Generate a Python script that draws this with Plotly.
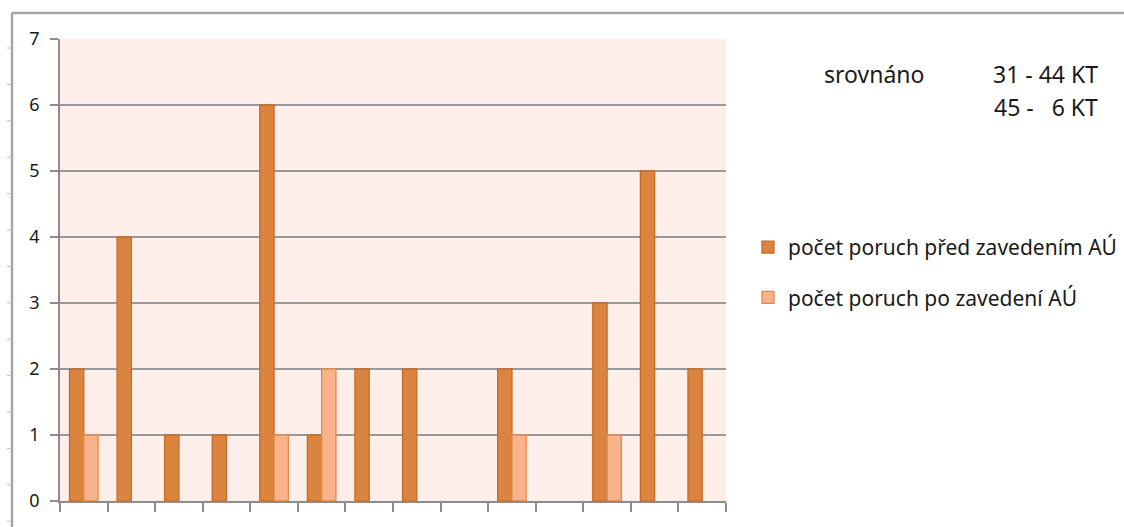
import plotly.graph_objects as go

# Categories (14 unlabeled groups) and failure counts
categories = list(range(14))
pred_zavedenim = [2, 4, 1, 1, 6, 1, 2, 2, 0, 2, 0, 3, 5, 2]
po_zavedeni = [1, 0, 0, 0, 1, 2, 0, 0, 0, 1, 0, 1, 0, 0]
y_ticks = [0, 1, 2, 3, 4, 5, 6, 7]

name_pred = "počet poruch před zavedením AÚ"
name_po = "počet poruch po zavedení AÚ"

FONT = "Noto Sans"
TEXT = "#1a1a1a"


def outline_widths(values, w=1.3):
    # no outline on empty bars so they don't leave a stroke on the baseline
    return [w if v > 0 else 0 for v in values]


fig = go.Figure()
fig.add_trace(go.Bar(
    x=categories, y=pred_zavedenim, name=name_pred, legendgroup="pred",
    marker=dict(color="#db843f",
                line=dict(color="#c26c2a", width=outline_widths(pred_zavedenim))),
))
fig.add_trace(go.Bar(
    x=categories, y=po_zavedeni, name=name_po, legendgroup="po",
    marker=dict(color="#f9b38b",
                line=dict(color="#e08a4e", width=outline_widths(po_zavedeni))),
))

boundaries = [c - 0.5 for c in categories] + [categories[-1] + 0.5]

fig.update_layout(
    width=1124, height=527,
    margin=dict(l=60, r=398, t=39, b=26, autoexpand=False),
    paper_bgcolor="white",
    plot_bgcolor="#fdeee9",
    barmode="group",
    bargap=0.4,
    bargroupgap=0,
    font=dict(family=FONT, size=15, color=TEXT),
    showlegend=True,
    legend=dict(
        x=1.033, y=0.4946, xanchor="left", yanchor="middle",
        font=dict(family=FONT, size=21, color=TEXT),
        itemwidth=30, tracegroupgap=20,
        bgcolor="rgba(0,0,0,0)",
    ),
    xaxis=dict(
        range=[-0.5, categories[-1] + 0.5],
        tickmode="array", tickvals=boundaries, ticktext=[""] * len(boundaries),
        ticks="outside", ticklen=9, tickcolor="#8c8c8c", tickwidth=1.5,
        showgrid=False, zeroline=False,
        showline=True, linecolor="#8c8c8c", linewidth=1.5,
    ),
    yaxis=dict(
        range=[0, 7],
        tickmode="array", tickvals=y_ticks,
        ticks="outside", ticklen=8, tickcolor="#8c8c8c", tickwidth=1.5,
        ticklabelstandoff=7,
        tickfont=dict(family=FONT, size=18, color=TEXT),
        showgrid=True, gridcolor="#999999", gridwidth=1.5,
        zeroline=False,
        showline=True, linecolor="#8c8c8c", linewidth=1.5,
    ),
)

# Outer chart frame (top and left edges)
fig.add_shape(type="line", xref="paper", yref="paper",
              x0=(12 - 60) / 666, x1=(1124 - 60) / 666,
              y0=(527 - 26 - 13) / 462, y1=(527 - 26 - 13) / 462,
              line=dict(color="#a6a6a6", width=2.5))
fig.add_shape(type="line", xref="paper", yref="paper",
              x0=(12 - 60) / 666, x1=(12 - 60) / 666,
              y0=(527 - 26 - 13) / 462, y1=-26 / 462,
              line=dict(color="#a6a6a6", width=2.5))
# small ticks on the left frame
for k in range(14):
    py = 48 + k * 36.4
    if py > 525:
        break
    yp = (501 - py) / 462
    fig.add_shape(type="line", xref="paper", yref="paper",
                  x0=(7 - 60) / 666, x1=(12 - 60) / 666, y0=yp, y1=yp,
                  line=dict(color="#c0c0c0", width=1))

# Comparison note
note_font = dict(family=FONT, size=23, color=TEXT)
fig.add_annotation(text="srovnáno", xref="paper", yref="paper",
                   x=(822 - 60) / 666, y=(501 - 74) / 462,
                   xanchor="left", yanchor="middle", showarrow=False,
                   font=note_font)
fig.add_annotation(text="31 - 44 KT", xref="paper", yref="paper",
                   x=(1100 - 60) / 666, y=(501 - 74) / 462,
                   xanchor="right", yanchor="middle", showarrow=False,
                   font=note_font)
fig.add_annotation(text="45 -   6 KT", xref="paper", yref="paper",
                   x=(1100 - 60) / 666, y=(501 - 107) / 462,
                   xanchor="right", yanchor="middle", showarrow=False,
                   font=note_font)

fig.write_html("out.html")
